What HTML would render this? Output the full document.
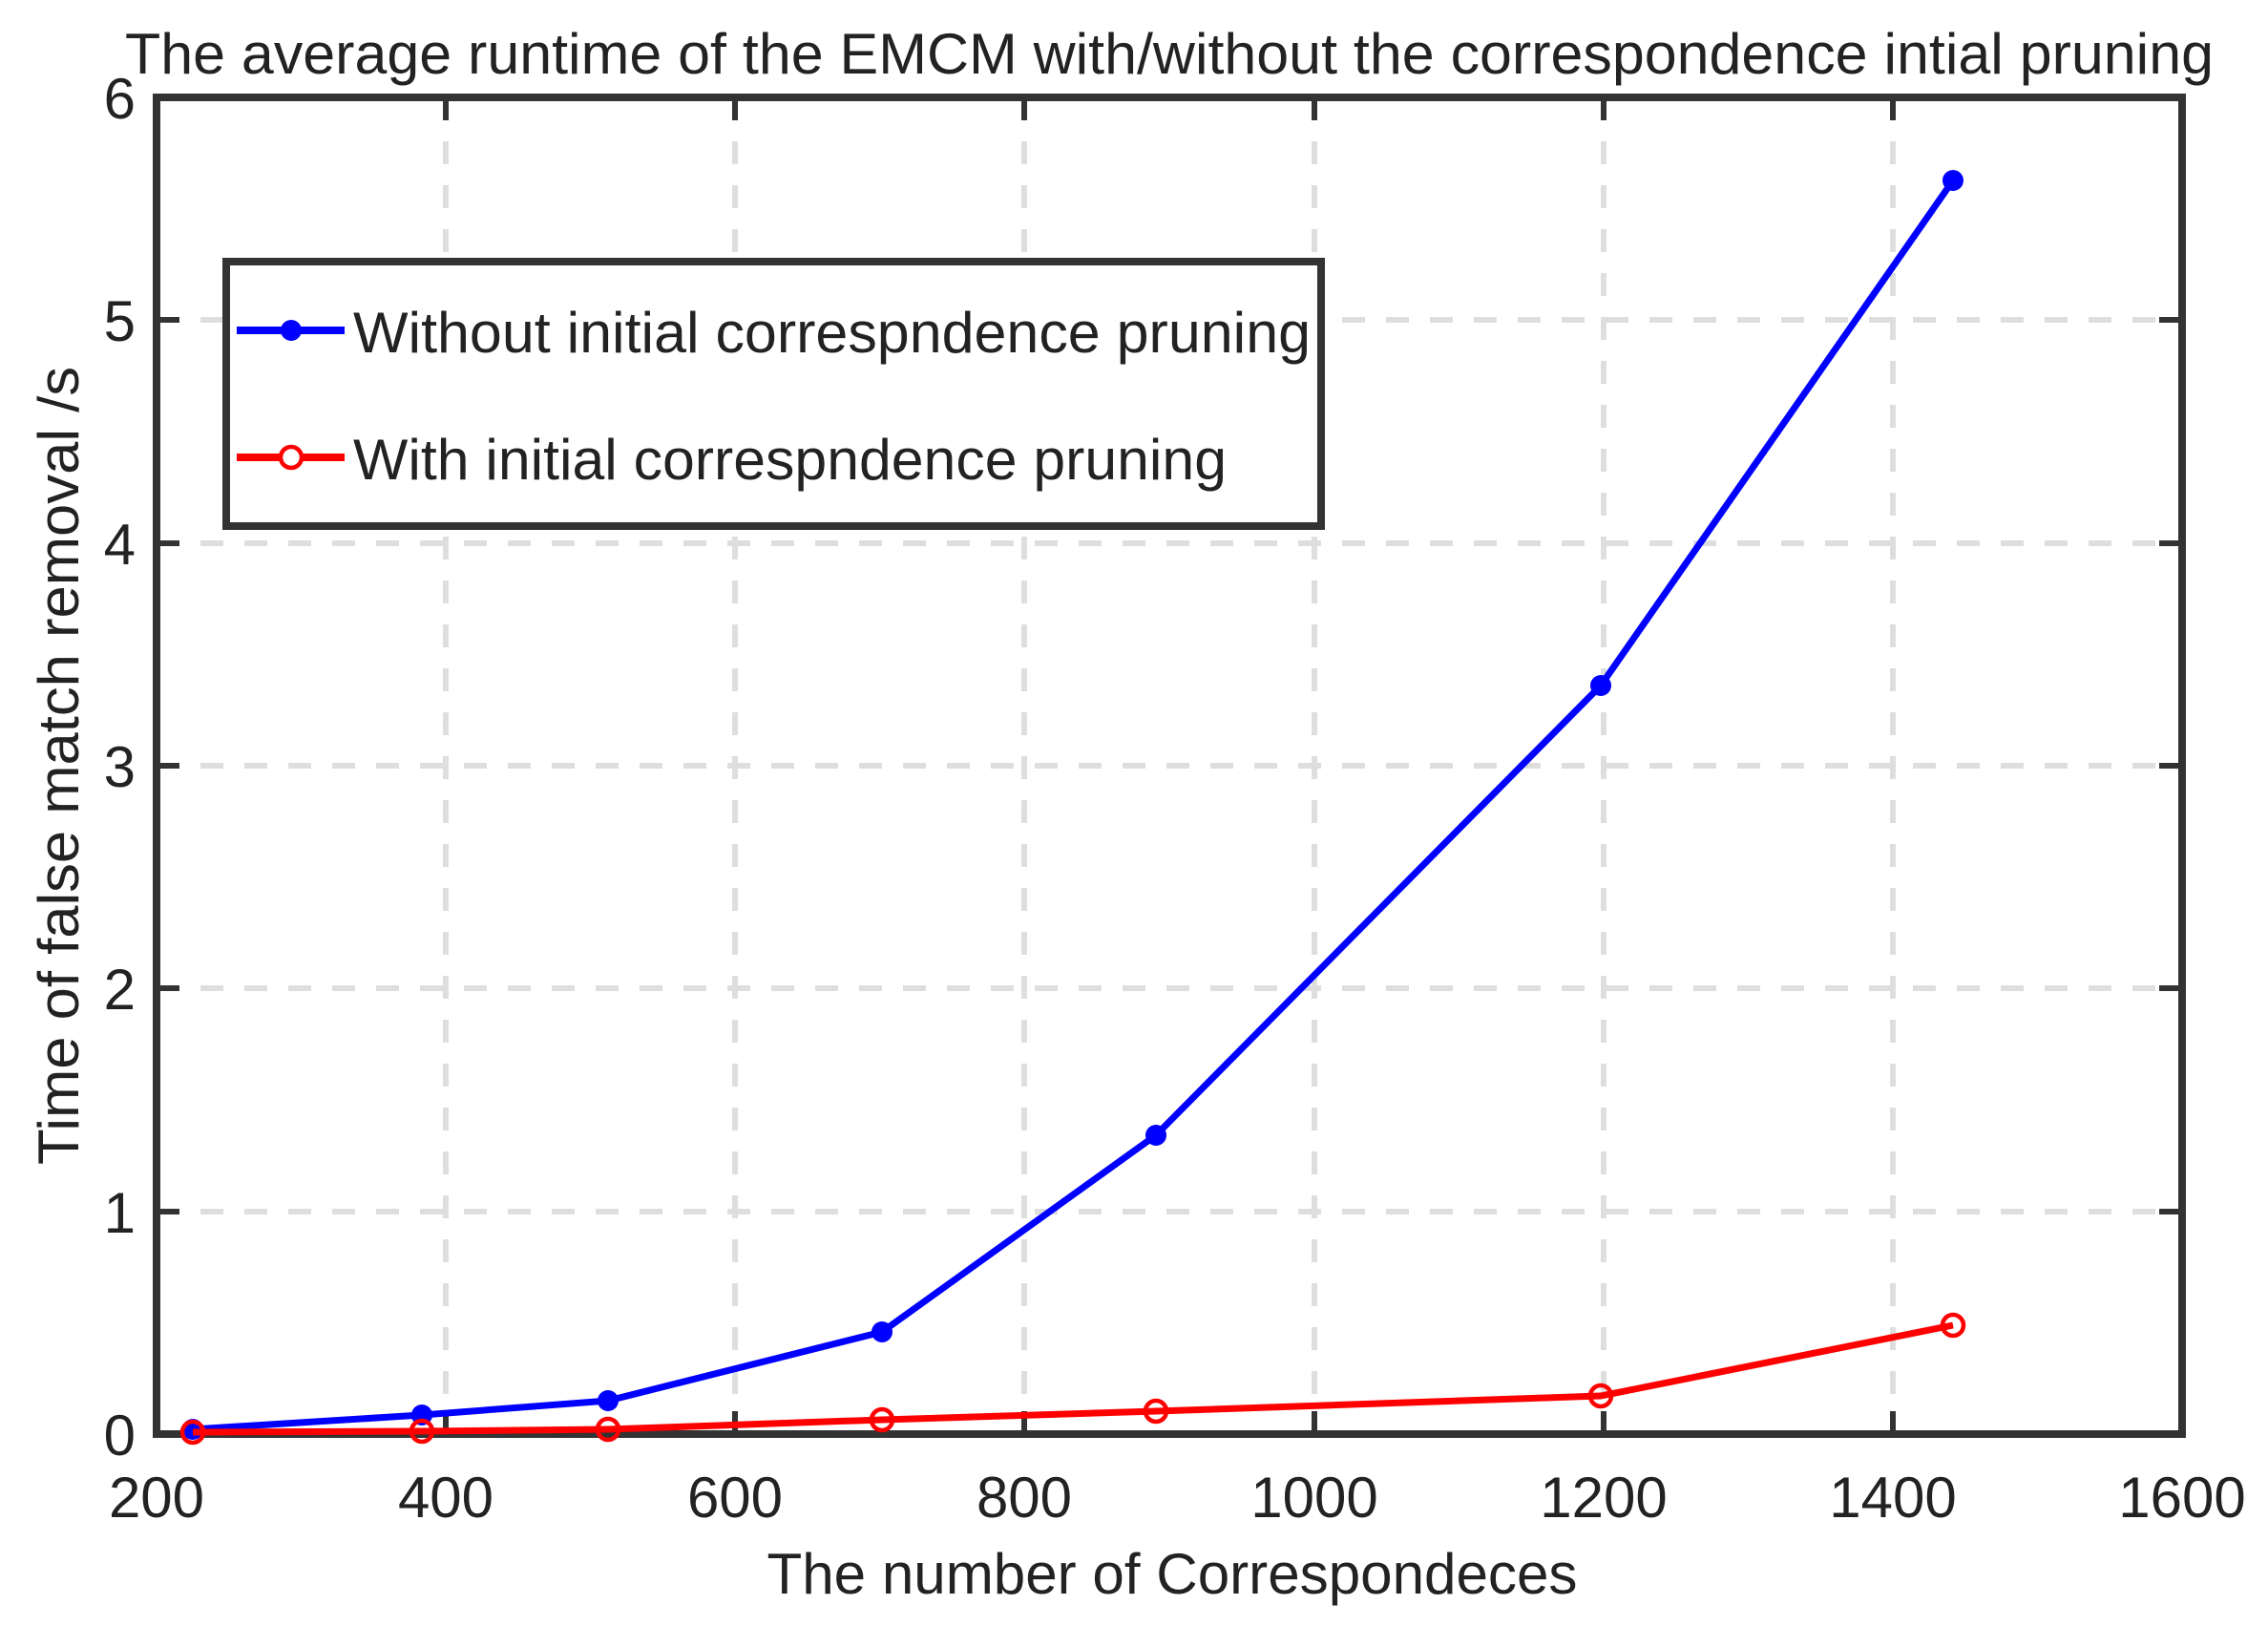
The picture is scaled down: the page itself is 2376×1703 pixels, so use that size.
<!DOCTYPE html>
<html><head><meta charset="utf-8"><style>html,body{margin:0;padding:0;background:#fff}svg{display:block}</style></head><body>
<svg width="2376" height="1703" viewBox="0 0 2376 1703" xmlns="http://www.w3.org/2000/svg" font-family="Liberation Sans, Arial, sans-serif">
<rect width="2376" height="1703" fill="#fff"/>
<g stroke="#dedede" stroke-width="6" stroke-dasharray="24 22">
<line x1="467" y1="102" x2="467" y2="1502"/><line x1="770" y1="102" x2="770" y2="1502"/><line x1="1073" y1="102" x2="1073" y2="1502"/><line x1="1377" y1="102" x2="1377" y2="1502"/><line x1="1680" y1="102" x2="1680" y2="1502"/><line x1="1983" y1="102" x2="1983" y2="1502"/>
<line x1="164" y1="335" x2="2286" y2="335"/><line x1="164" y1="569" x2="2286" y2="569"/><line x1="164" y1="802" x2="2286" y2="802"/><line x1="164" y1="1035" x2="2286" y2="1035"/><line x1="164" y1="1269" x2="2286" y2="1269"/>
</g>
<g stroke="#333" stroke-width="6">
<path d="M467 1502v-24M770 1502v-24M1073 1502v-24M1377 1502v-24M1680 1502v-24M1983 1502v-24M467 102v24M770 102v24M1073 102v24M1377 102v24M1680 102v24M1983 102v24"/>
<path d="M164 335h24M164 569h24M164 802h24M164 1035h24M164 1269h24M2286 335h-24M2286 569h-24M2286 802h-24M2286 1035h-24M2286 1269h-24"/>
</g>
<rect x="164" y="102" width="2122" height="1400" fill="none" stroke="#333" stroke-width="8"/>
<polyline fill="none" stroke="#00f" stroke-width="7" points="202,1497 442,1482 637,1467 924,1395 1211,1189 1677,718 2046,189"/>
<g fill="#00f"><circle cx="202" cy="1497" r="11"/><circle cx="442" cy="1482" r="11"/><circle cx="637" cy="1467" r="11"/><circle cx="924" cy="1395" r="11"/><circle cx="1211" cy="1189" r="11"/><circle cx="1677" cy="718" r="11"/><circle cx="2046" cy="189" r="11"/></g>
<polyline fill="none" stroke="#f00" stroke-width="7" points="202,1500 442,1499 637,1497 924,1487 1211,1478 1677,1462 2046,1388"/>
<g fill="none" stroke="#f00" stroke-width="4.5"><circle cx="202" cy="1500" r="11"/><circle cx="442" cy="1499" r="11"/><circle cx="637" cy="1497" r="11"/><circle cx="924" cy="1487" r="11"/><circle cx="1211" cy="1478" r="11"/><circle cx="1677" cy="1462" r="11"/><circle cx="2046" cy="1388" r="11"/></g>
<rect x="237" y="274" width="1147" height="277" fill="#fff" stroke="#333" stroke-width="8"/>
<line x1="248" y1="346" x2="361" y2="346" stroke="#00f" stroke-width="8"/><circle cx="305" cy="346" r="11" fill="#00f"/>
<line x1="248" y1="479" x2="361" y2="479" stroke="#f00" stroke-width="8"/><circle cx="305" cy="479" r="11" fill="#fff" stroke="#f00" stroke-width="4.5"/>
<g fill="#222" font-size="60">
<text x="370" y="369" textLength="1003" lengthAdjust="spacingAndGlyphs">Without initial correspndence pruning</text>
<text x="370" y="502" textLength="915" lengthAdjust="spacingAndGlyphs">With initial correspndence pruning</text>
<text x="1225" y="77" text-anchor="middle" textLength="2188" lengthAdjust="spacingAndGlyphs">The average runtime of the EMCM with/without the correspondence intial pruning</text>
<g text-anchor="end"><text x="142" y="124">6</text><text x="142" y="357">5</text><text x="142" y="591">4</text><text x="142" y="824">3</text><text x="142" y="1057">2</text><text x="142" y="1291">1</text><text x="142" y="1524">0</text></g>
<g text-anchor="middle"><text x="164" y="1589">200</text><text x="467" y="1589">400</text><text x="770" y="1589">600</text><text x="1073" y="1589">800</text><text x="1377" y="1589">1000</text><text x="1680" y="1589">1200</text><text x="1983" y="1589">1400</text><text x="2286" y="1589">1600</text></g>
<text x="1228" y="1669" text-anchor="middle" textLength="849" lengthAdjust="spacingAndGlyphs">The number of Correspondeces</text>
<text transform="translate(82,802) rotate(-90)" text-anchor="middle" textLength="836" lengthAdjust="spacingAndGlyphs">Time of false match removal /s</text>
</g>
</svg>
</body></html>
